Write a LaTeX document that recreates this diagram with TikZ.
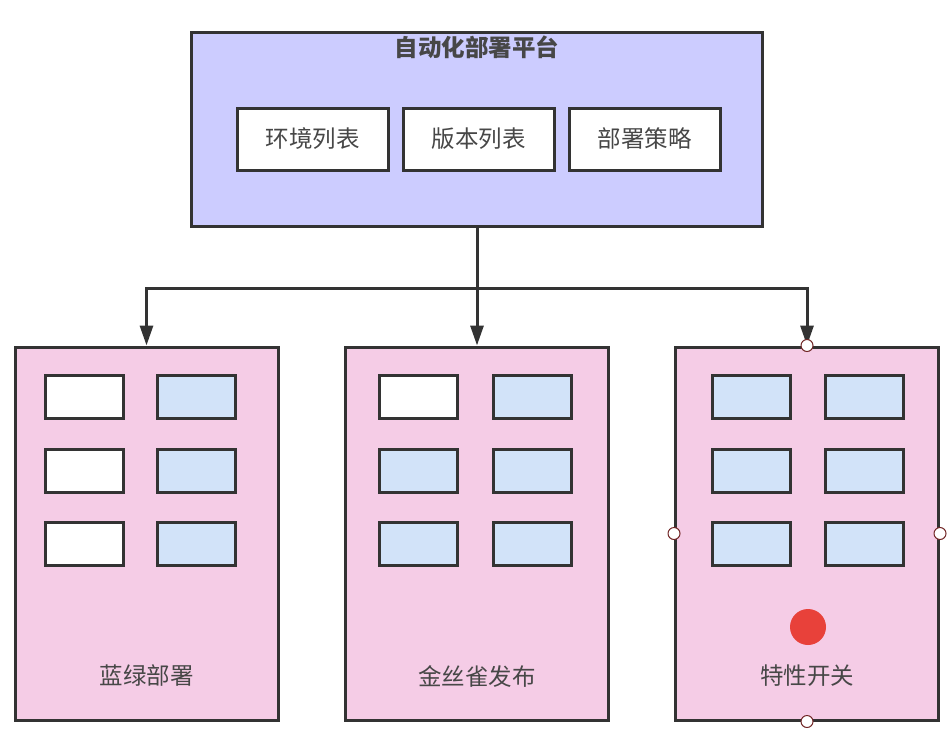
\documentclass[tikz,border=0pt]{standalone}
\usepackage{fontspec}
\setmainfont{Noto Sans CJK SC}
\usepackage{tikz}
\usetikzlibrary{arrows.meta,positioning}
\definecolor{lav}{HTML}{CCCCFF}
\definecolor{pnk}{HTML}{F5CCE6}
\definecolor{lblu}{HTML}{D2E3F9}
\definecolor{dot}{HTML}{E8413A}
\definecolor{ink}{HTML}{333333}

\begin{document}
\begin{tikzpicture}[x=1pt,y=-1pt,>={Triangle[length=20pt,width=13pt]},
  every node/.style={font=\fontsize{23.5}{27}\selectfont,text=ink!90},
  platform/.style={draw=ink,line width=3pt,fill=lav,minimum width=571pt,minimum height=194pt,inner sep=0pt},
  item/.style={draw=ink,line width=3pt,fill=white,minimum width=151pt,minimum height=62pt,inner sep=0pt},
  mode/.style={draw=ink,line width=3pt,fill=pnk,minimum width=263pt,minimum height=373pt,inner sep=0pt},
  cell/.style={draw=ink,line width=3pt,minimum width=78pt,minimum height=43pt,inner sep=0pt},
  handle/.style={circle,draw=ink!70!red,line width=1pt,fill=white,minimum size=12pt,inner sep=0pt},
  link/.style={draw=ink,line width=3pt}]
\useasboundingbox (0,0) rectangle (952,744);
% platform
\node[platform] (plat) at (477,129) {};
\node[font=\fontsize{23.5}{27}\selectfont\bfseries] (title) at (477,47) {自动化部署平台};
\node[item] (env) at (312.5,139) {环境列表};
\node[item] (ver) at (478.5,139) {版本列表};
\node[item] (pol) at (644.5,139) {部署策略};
% three ways of release
\node[mode] (bg) at (146.5,533.5) {};
\node[mode] (cn) at (477,533.5) {};
\node[mode] (ft) at (807,533.5) {};
% instances
\foreach \m/\xa/\xb/\fa/\fb/\fc in {bg/84/196.5/white/white/white,
    cn/418.5/532.5/white/lblu/lblu, ft/751.5/864.5/lblu/lblu/lblu} {
  \node[cell,fill=\fa] (\m-a1) at (\xa,396.5) {};
  \node[cell,fill=\fb] (\m-a2) at (\xa,470.5) {};
  \node[cell,fill=\fc] (\m-a3) at (\xa,543.5) {};
  \foreach \r/\y in {1/396.5,2/470.5,3/543.5}
    \node[cell,fill=lblu] (\m-b\r) at (\xb,\y) {};
}
\node (bglab) at (146.5,676) {蓝绿部署};
\node (cnlab) at (477,676) {金丝雀发布};
\node (ftlab) at (807,676) {特性开关};
\node[circle,fill=dot,minimum size=36pt,inner sep=0pt] (switch) at (808,627) {};
% connectors
\coordinate (bus) at (477,288);
\draw[link] (plat.south) -- (bus);
\draw[link,->] (bus) -| (bg.north);
\draw[link,->] (bus) -- (cn.north);
\draw[link,->] (bus) -| (ft.north);
% selection handles
\node[handle] (hn) at (ft.north) {};
\node[handle] (hs) at (ft.south) {};
\node[handle] (hw) at (ft.west) {};
\node[handle] (he) at (ft.east) {};
\end{tikzpicture}
\end{document}
